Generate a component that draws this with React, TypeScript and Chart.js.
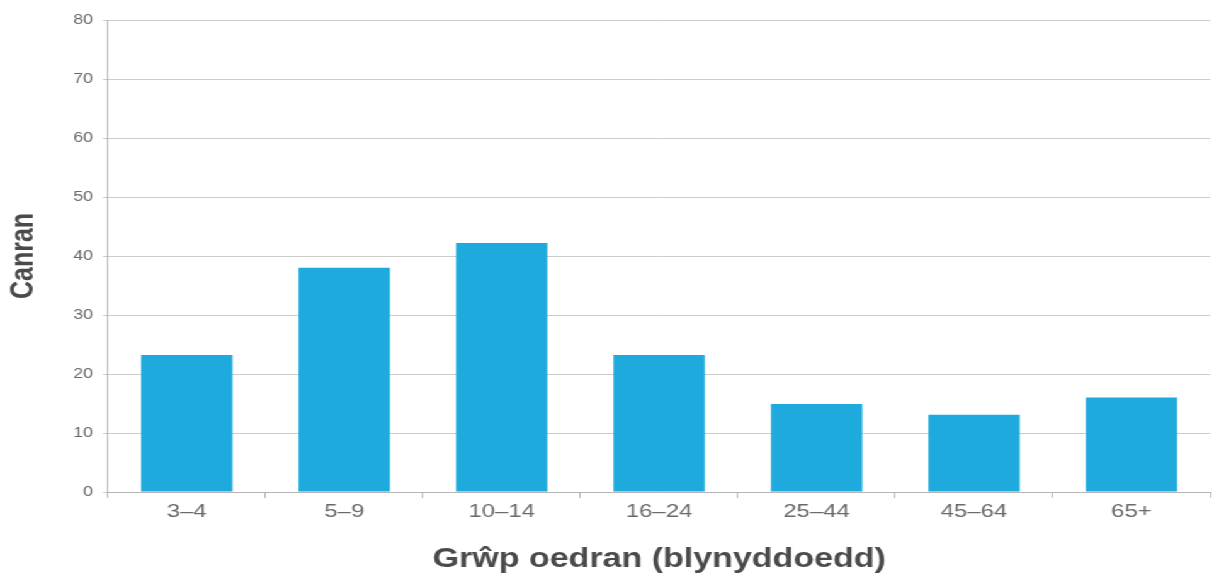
import React, { useEffect, useRef } from "react";
import { Chart, registerables } from "chart.js";

Chart.register(...registerables);

const categories: string[] = ["3–4", "5–9", "10–14", "16–24", "25–44", "45–64", "65+"];
const values: number[] = [23.2, 38.0, 42.2, 23.2, 14.9, 13.1, 16.0];
const yTicks: number[] = [0, 10, 20, 30, 40, 50, 60, 70, 80];
const yTitle = "Canran";
const xTitle = "Grŵp oedran (blynyddoedd)";

const STRETCH = 1214 / 964;
const W = 964;
const H = 588;
const FONT = "'Liberation Sans', Arial, Helvetica, sans-serif";

export default function App() {
  const ref = useRef<HTMLCanvasElement | null>(null);

  useEffect(() => {
    const canvas = ref.current;
    if (!canvas) return;
    const chart = new Chart(canvas, {
      type: "bar",
      data: {
        labels: categories,
        datasets: [
          {
            data: values,
            backgroundColor: "#1eaadd",
            borderWidth: 0,
            barPercentage: 0.58,
            categoryPercentage: 1,
          },
        ],
      },
      options: {
        animation: false,
        responsive: false,
        devicePixelRatio: 1,
        layout: { padding: { top: 20, right: 3, bottom: 0, left: 0 } },
        plugins: {
          legend: { display: false },
          tooltip: { enabled: false },
        },
        scales: {
          x: {
            afterFit: (scale: any) => {
              scale.height = 96;
            },
            grid: {
              display: true,
              drawOnChartArea: false,
              drawTicks: true,
              tickLength: 6,
              color: "#b5b5b5",
              offset: true,
            },
            border: { display: true, color: "#b5b5b5", width: 1 },
            ticks: {
              color: "#6a6a6a",
              padding: 2,
              font: { family: FONT, size: 19 },
            },
            title: {
              display: true,
              text: xTitle,
              color: "#4a4a4a",
              font: { family: FONT, size: 27, weight: "bold" },
              padding: { top: 0, bottom: 12 },
            },
          },
          y: {
            min: 0,
            max: 80,
            afterFit: (scale: any) => {
              scale.width = 85.8;
            },
            afterBuildTicks: (scale: any) => {
              scale.ticks = yTicks.map((v) => ({ value: v }));
            },
            grid: {
              color: "#cccccc",
              tickLength: 4,
              drawTicks: true,
            },
            border: { display: true, color: "#b5b5b5", width: 1 },
            ticks: {
              color: "#6a6a6a",
              padding: 8,
              font: { family: FONT, size: 14 },
            },
            title: {
              display: true,
              text: yTitle,
              color: "#4a4a4a",
              font: { family: FONT, size: 25, weight: "bold" },
              padding: { top: 4, bottom: 0 },
            },
          },
        },
      },
    });
    return () => chart.destroy();
  }, []);

  return (
    <div
      style={{
        position: "fixed",
        left: 0,
        top: 0,
        width: W,
        height: H,
        transform: `scaleX(${STRETCH})`,
        transformOrigin: "0 0",
        background: "#fff",
      }}
    >
      <canvas ref={ref} width={W} height={H} style={{ display: "block" }} />
    </div>
  );
}
